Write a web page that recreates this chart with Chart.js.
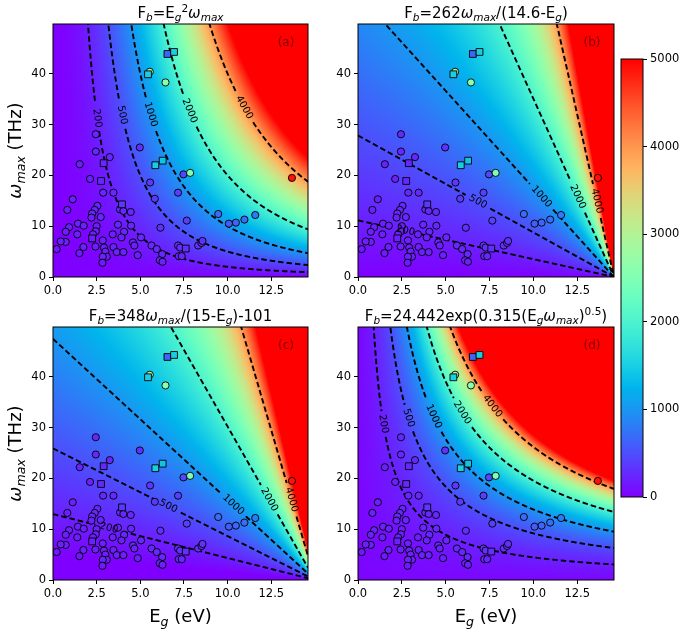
<!DOCTYPE html>
<html>
<head>
<meta charset="utf-8">
<script src="https://cdn.jsdelivr.net/npm/chart.js@4.4.0/dist/chart.umd.min.js"></script>
<style>
  body { margin: 0; background: #fff; }
  #wrap { position: relative; width: 685px; height: 630px; }
  canvas { position: absolute; }
</style>
</head>
<body>
<div id="wrap">
  <canvas id="ca" style="left:0;top:0" width="330" height="300"></canvas>
  <canvas id="cb" style="left:330px;top:0" width="290" height="300"></canvas>
  <canvas id="cc" style="left:0;top:300px" width="330" height="330"></canvas>
  <canvas id="cd" style="left:330px;top:300px" width="290" height="330"></canvas>
  <canvas id="cbar" style="left:600px;top:40px" width="85" height="480"></canvas>
</div>
<script>
// axes
const EG_MAX = 14.6, W_MAX = 49.8, F_MAX = 5000;
const xTicks = [0, 2.5, 5, 7.5, 10, 12.5];
const xTickLabels = ["0.0", "2.5", "5.0", "7.5", "10.0", "12.5"];
const yTicks = [0, 10, 20, 30, 40];
const yTickLabels = ["0", "10", "20", "30", "40"];
const cbTicks = [0, 1000, 2000, 3000, 4000, 5000];
const cbTickLabels = ["0", "1000", "2000", "3000", "4000", "5000"];
const levels = [200, 500, 1000, 2000, 4000];

// materials: circles (Eg, w_max, colour value)
const circEg = [5.54, 6.44, 4.97, 2.45, 2.45, 3.25, 1.53, 5.56, 7.47, 7.85, 13.68, 2.12, 2.87, 3.46, 7.16, 5.83,
  1.13, 0.82, 2.54, 3.84, 4.03, 4.45, 2.39, 2.24, 2.20, 2.73, 9.46, 11.58, 10.96, 7.66, 10.47, 10.07,
  1.43, 1.76, 2.50, 3.72, 4.47, 6.15, 0.92, 0.73, 2.45, 4.07, 1.39, 2.29, 3.42, 3.92, 2.85, 5.04,
  0.73, 0.44, 4.58, 7.16, 8.31, 8.50, 8.56, 0.21, 1.74, 2.43, 3.46, 2.92, 4.66, 5.64, 5.94, 7.28,
  1.51, 3.00, 3.65, 4.03, 6.25, 4.85, 3.08, 2.85, 7.20, 7.37, 6.11, 6.27, 2.83];
const circW = [40.4, 38.3, 25.5, 28.1, 24.7, 23.6, 22.2, 18.6, 20.2, 20.5, 19.5, 19.3, 16.6, 16.6, 16.6, 15.4,
  15.3, 13.2, 14.0, 13.3, 13.0, 12.8, 13.2, 12.5, 11.7, 11.8, 12.4, 12.2, 11.3, 11.1, 10.7, 10.5,
  10.5, 10.1, 10.0, 10.3, 10.1, 9.7, 9.8, 8.9, 9.0, 8.9, 8.4, 8.4, 8.4, 7.8, 7.2, 7.8,
  6.9, 7.0, 6.8, 6.2, 6.2, 6.7, 7.1, 5.5, 5.9, 6.0, 5.9, 5.8, 6.2, 6.2, 5.5, 5.8,
  4.7, 5.0, 4.9, 4.9, 4.5, 4.3, 4.0, 4.0, 4.1, 4.1, 3.3, 3.0, 2.8];
const circF = [3000, 2600, 300, 250, 250, 250, 200, 350, 450, 2500, 4900, 200, 250, 250, 400, 350,
  200, 200, 250, 250, 250, 250, 250, 250, 200, 250, 700, 800, 700, 400, 650, 600,
  200, 200, 200, 250, 250, 300, 200, 200, 200, 250, 200, 200, 200, 200, 200, 250,
  200, 200, 250, 300, 300, 300, 300, 150, 200, 200, 200, 200, 200, 250, 250, 300,
  150, 200, 200, 200, 250, 200, 200, 200, 250, 250, 200, 200, 150];
// squares
const sqEg = [6.55, 6.93, 5.44, 5.86, 6.28, 2.90, 2.75, 3.95, 2.24, 7.60];
const sqW = [43.9, 44.3, 39.9, 22.0, 22.9, 22.4, 18.9, 14.3, 7.6, 5.6];
const sqF = [650, 1500, 1500, 1500, 1400, 250, 250, 350, 200, 300];

// where the contour labels sit (Eg)
const labA = [2.53, 3.96, 5.59, 7.82, 10.95];
const labB = [2.7, 6.84, 10.46, 12.53, 13.62];
const labC = [3.2, 6.6, 10.32, 12.38, 13.66];
const labD = [1.45, 2.88, 4.31, 5.94, 7.66];

const FONT = '"DejaVu Sans", sans-serif';

function cmap(t) {
  if (Number.isNaN(t)) t = 1;
  t = Math.min(1, Math.max(0, t));
  const r = Math.min(1, Math.abs(2 * t - 0.5));
  const g = Math.sin(Math.PI * t);
  const b = Math.cos(Math.PI * t / 2);
  return [Math.round(255 * r), Math.round(255 * g), Math.round(255 * b)];
}
function cstr(v) { const c = cmap(v / F_MAX); return `rgb(${c[0]},${c[1]},${c[2]})`; }

// text with sub/superscripts
function rich(ctx, segs, x, y, size) {
  let w = 0;
  const parts = segs.map(s => {
    const sz = (s.sub || s.sup) ? size * 0.7 : size;
    const font = (s.it ? 'italic ' : '') + sz + 'px ' + FONT;
    ctx.font = font;
    const m = ctx.measureText(s.t).width;
    const p = { t: s.t, font, x: w, dy: s.sub ? size * 0.22 : s.sup ? -size * 0.42 : 0 };
    w += m;
    return p;
  });
  const x0 = x - w / 2;
  ctx.textAlign = 'left';
  ctx.textBaseline = 'alphabetic';
  parts.forEach(p => { ctx.font = p.font; ctx.fillText(p.t, x0 + p.x, y + p.dy); });
}

const Fb = [{ t: 'F' }, { t: 'b', sub: 1, it: 1 }, { t: '=' }];
const wmax = [{ t: 'ω', it: 1 }, { t: 'max', sub: 1, it: 1 }];
const Eg = [{ t: 'E' }, { t: 'g', sub: 1, it: 1 }];

const panels = [
  { id: 'ca', tag: '(a)', lab: labA, yW: 53, xH: 23, pad: { top: 24, right: 22, left: 0, bottom: 0 }, ylab: true,
    title: [...Fb, ...Eg, { t: '2', sup: 1 }, ...wmax],
    f: (e, w) => e * e * w, wOf: (L, e) => L / (e * e) },
  { id: 'cb', tag: '(b)', lab: labB, yW: 28, xH: 23, pad: { top: 24, right: 6, left: 0, bottom: 0 },
    title: [...Fb, { t: '262' }, ...wmax, { t: '/(14.6-' }, ...Eg, { t: ')' }],
    f: (e, w) => 262 * w / (14.6 - e), wOf: (L, e) => L * (14.6 - e) / 262 },
  { id: 'cc', tag: '(c)', lab: labC, yW: 53, xH: 50, pad: { top: 27, right: 22, left: 0, bottom: 0 }, ylab: true, xlab: true,
    title: [...Fb, { t: '348' }, ...wmax, { t: '/(15-' }, ...Eg, { t: ')-101' }],
    f: (e, w) => 348 * w / (15 - e) - 101, wOf: (L, e) => (L + 101) * (15 - e) / 348 },
  { id: 'cd', tag: '(d)', lab: labD, yW: 28, xH: 50, pad: { top: 27, right: 6, left: 0, bottom: 0 }, xlab: true,
    title: [...Fb, { t: '24.442exp(0.315(' }, ...Eg, ...wmax, { t: ')' }, { t: '0.5', sup: 1 }, { t: ')' }],
    f: (e, w) => 24.442 * Math.exp(0.315 * Math.sqrt(e * w)),
    wOf: (L, e) => Math.pow(Math.log(L / 24.442) / 0.315, 2) / e }
];

function gapColor(c) {
  const ds = c.chart.data.datasets[c.datasetIndex];
  if (!ds.lab) return '#000';
  const lx = c.chart.scales.x.getPixelForValue(ds.lab.x);
  const ly = c.chart.scales.y.getPixelForValue(ds.lab.y);
  const mx = (c.p0.x + c.p1.x) / 2, my = (c.p0.y + c.p1.y) / 2;
  return Math.hypot(mx - lx, my - ly) < ds.lab.gap ? 'rgba(0,0,0,0)' : '#000';
}

function fieldPlugin(p) {
  return {
    id: 'field',
    beforeDatasetsDraw(chart) {
      const { ctx, chartArea: a, scales: { x, y } } = chart;
      if (!chart.$heat) {
        const W = Math.round(a.right - a.left), H = Math.round(a.bottom - a.top);
        const off = document.createElement('canvas');
        off.width = W; off.height = H;
        const oc = off.getContext('2d');
        const img = oc.createImageData(W, H);
        for (let j = 0; j < H; j++) {
          const w = y.getValueForPixel(a.top + j + 0.5);
          for (let i = 0; i < W; i++) {
            const e = x.getValueForPixel(a.left + i + 0.5);
            const c = cmap(p.f(e, w) / F_MAX);
            const k = (j * W + i) * 4;
            img.data[k] = c[0]; img.data[k + 1] = c[1]; img.data[k + 2] = c[2]; img.data[k + 3] = 255;
          }
        }
        oc.putImageData(img, 0, 0);
        chart.$heat = off;
      }
      ctx.drawImage(chart.$heat, a.left, a.top, a.right - a.left, a.bottom - a.top);
    },
    afterDatasetsDraw(chart) {
      const { ctx, chartArea: a, scales: { x, y } } = chart;
      ctx.save();
      // contour labels
      if (p.wOf) {
        chart.data.datasets.forEach(ds => {
          if (!ds.lab) return;
          const L = +ds.lab.text, e = ds.lab.x, d = 0.03;
          const px = x.getPixelForValue(e), py = y.getPixelForValue(ds.lab.y);
          const dx = x.getPixelForValue(e + d) - x.getPixelForValue(e - d);
          const dy = y.getPixelForValue(p.wOf(L, e + d)) - y.getPixelForValue(p.wOf(L, e - d));
          let ang = Math.atan2(dy, dx);
          if (ang > Math.PI / 2) ang -= Math.PI;
          if (ang < -Math.PI / 2) ang += Math.PI;
          ctx.save();
          ctx.translate(px, py);
          ctx.rotate(ang);
          ctx.font = '10px ' + FONT;
          ctx.fillStyle = '#000';
          ctx.textAlign = 'center';
          ctx.textBaseline = 'middle';
          ctx.fillText(ds.lab.text, 0, 0);
          ctx.restore();
        });
      }
      // frame
      ctx.strokeStyle = '#000';
      ctx.lineWidth = 1;
      ctx.strokeRect(a.left, a.top, a.right - a.left, a.bottom - a.top);
      const cx = (a.left + a.right) / 2;
      ctx.fillStyle = '#000';
      if (p.title) rich(ctx, p.title, cx, a.top - 6, 15);
      if (p.tag) {
        ctx.font = '12px ' + FONT;
        ctx.fillStyle = 'rgba(0,0,0,0.5)';
        ctx.textAlign = 'center';
        ctx.textBaseline = 'middle';
        ctx.fillText(p.tag, a.right - 22, a.top + 19);
        ctx.fillStyle = '#000';
      }
      if (p.xlab) rich(ctx, [...Eg, { t: ' (eV)' }], cx, a.bottom + 42, 18);
      if (p.ylab) {
        ctx.save();
        ctx.translate(21, (a.top + a.bottom) / 2);
        ctx.rotate(-Math.PI / 2);
        rich(ctx, [...wmax, { t: ' (THz)' }], 0, 0, 18);
        ctx.restore();
      }
      ctx.restore();
    }
  };
}

function tickAxis(vals, labels, fitFn, extra) {
  return Object.assign({
    type: 'linear',
    afterBuildTicks: s => { s.ticks = vals.map(v => ({ value: v })); },
    afterFit: fitFn,
    ticks: { callback: (v, i) => labels[i], font: { family: 'DejaVu Sans', size: 11.5 }, color: '#000',
      padding: 3, maxRotation: 0, autoSkip: false },
    grid: { drawOnChartArea: false, drawTicks: true, tickLength: 4, color: '#000', lineWidth: 1 },
    border: { display: false }
  }, extra);
}

function contourSets(p) {
  return levels.map((L, k) => {
    const pts = [];
    for (let i = 0; i <= 730; i++) {
      const e = i * EG_MAX / 730;
      const w = p.wOf(L, e);
      if (!isFinite(w) || w > 60) continue;
      pts.push({ x: e, y: w });
    }
    const le = p.lab[k], txt = String(L);
    return {
      type: 'line', data: pts,
      lab: { x: le, y: p.wOf(L, le), text: txt, gap: txt.length * 3.3 + 4 },
      borderColor: '#000', borderWidth: 1.9, borderDash: [5.5, 3],
      pointRadius: 0, fill: false, tension: 0,
      segment: { borderColor: gapColor }
    };
  });
}

panels.forEach(p => {
  new Chart(document.getElementById(p.id), {
    type: 'scatter',
    data: {
      datasets: [
        { data: sqEg.map((e, i) => ({ x: e, y: sqW[i] })), pointStyle: 'rect', pointRadius: 4.8,
          backgroundColor: sqF.map(cstr), borderColor: '#000', borderWidth: 0.9 },
        { data: circEg.map((e, i) => ({ x: e, y: circW[i] })), pointStyle: 'circle', pointRadius: 3.6,
          backgroundColor: circF.map(cstr), borderColor: '#000', borderWidth: 0.9 },
        ...contourSets(p)
      ]
    },
    options: {
      responsive: false, animation: false, devicePixelRatio: 1, events: [],
      layout: { padding: p.pad },
      plugins: { legend: { display: false }, tooltip: { enabled: false } },
      scales: {
        x: tickAxis(xTicks, xTickLabels, s => { s.height = p.xH; }, { min: 0, max: EG_MAX }),
        y: tickAxis(yTicks, yTickLabels, s => { s.width = p.yW; }, { min: 0, max: W_MAX })
      }
    },
    plugins: [fieldPlugin(p)]
  });
});

// colour bar
new Chart(document.getElementById('cbar'), {
  type: 'scatter',
  data: { datasets: [] },
  options: {
    responsive: false, animation: false, devicePixelRatio: 1, events: [],
    layout: { padding: { top: 19, bottom: 23, left: 21, right: 0 } },
    plugins: { legend: { display: false }, tooltip: { enabled: false } },
    scales: {
      x: { type: 'linear', display: false, min: 0, max: 1 },
      y: tickAxis(cbTicks, cbTickLabels, s => { s.width = 42; }, { min: 0, max: F_MAX, position: 'right' })
    }
  },
  plugins: [fieldPlugin({ f: (e, w) => w })]
});
</script>
</body>
</html>
